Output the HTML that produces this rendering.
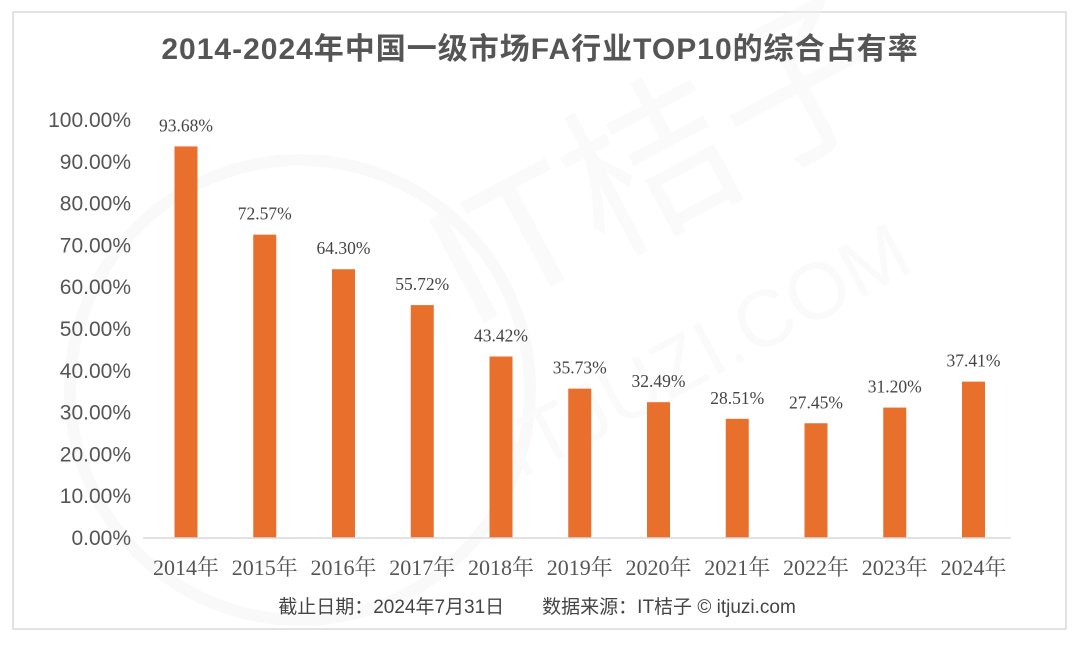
<!DOCTYPE html>
<html><head><meta charset="utf-8"><style>
body{margin:0;width:1080px;height:640px;background:#fff;overflow:hidden}
svg text{font-family:"Liberation Sans","Noto Sans CJK SC",sans-serif}
.serif{font-family:"Liberation Serif","Noto Serif CJK SC",serif}
</style></head><body>
<svg id="chart" width="1080" height="640">
<rect x="13" y="12" width="1053" height="617" fill="#fff" stroke="#d9d9d9" stroke-width="1.5"/>
<g opacity="0.4">
<circle cx="300" cy="390" r="230" fill="none" stroke="#f0f0f0" stroke-width="12"/>
<text x="470" y="330" font-size="170" fill="#f2f2f2" transform="rotate(-28 470 330)">IT桔子</text>
<text x="520" y="480" font-size="80" fill="#f2f2f2" transform="rotate(-28 520 480)">ITJUZI.COM</text>
</g>
<text x="540" y="59" text-anchor="middle" font-size="30" font-weight="bold" fill="#555" letter-spacing="1">2014-2024年中国一级市场FA行业TOP10的综合占有率</text>
<g id="yaxis"></g><g id="bars"></g><g id="xaxis"></g>
<line x1="143" y1="538" x2="1011" y2="538" stroke="#d9d9d9" stroke-width="1.5"/>
<text x="537" y="613" text-anchor="middle" font-size="19" fill="#444">截止日期：2024年7月31日　　数据来源：IT桔子 © itjuzi.com</text>
</svg>
<script>
const categories=["2014年","2015年","2016年","2017年","2018年","2019年","2020年","2021年","2022年","2023年","2024年"];
const values=[93.68,72.57,64.30,55.72,43.42,35.73,32.49,28.51,27.45,31.20,37.41];
const yTicks=[0,10,20,30,40,50,60,70,80,90,100];
const NS="http://www.w3.org/2000/svg";
const y=v=>538-v*4.18;
const x=i=>186+i*78.75;
function mk(tag,attrs,parent,txt){const e=document.createElementNS(NS,tag);for(const k in attrs)e.setAttribute(k,attrs[k]);if(txt!==undefined)e.textContent=txt;parent.appendChild(e);return e;}
const ya=document.getElementById('yaxis'),ba=document.getElementById('bars'),xa=document.getElementById('xaxis');
yTicks.forEach(t=>{
 const e=mk('text',{x:131,y:y(t)+7,'text-anchor':'end','font-size':21,fill:'#555'},ya,t.toFixed(2)+'%');
 
 
});
values.forEach((v,i)=>{
 const r=mk('rect',{x:x(i)-11.5,y:y(v),width:23,height:538-y(v),fill:'#e96f2d'},ba);
 
 
 const l=mk('text',{x:x(i),y:y(v)-15,'text-anchor':'middle','font-size':17.5,fill:'#444',class:'serif'},ba,v.toFixed(2)+'%');
 
 
 const c=mk('text',{x:x(i),y:575,'text-anchor':'middle','font-size':22,fill:'#555',class:'serif'},xa,categories[i]);
 
 
});
</script>
</body></html>
